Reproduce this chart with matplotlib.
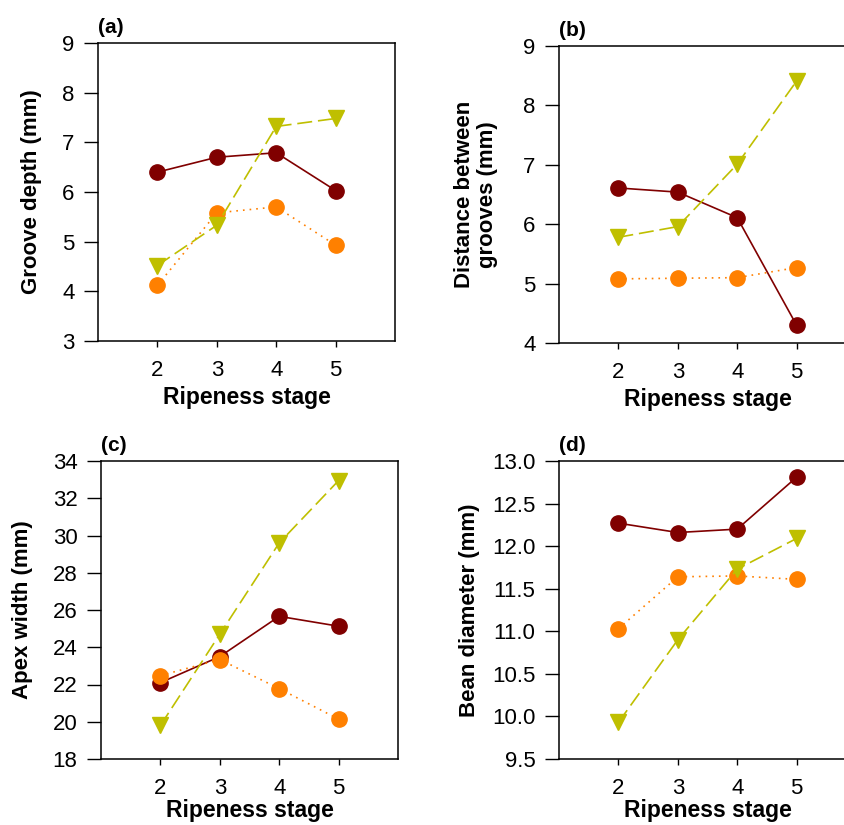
import matplotlib
matplotlib.use('Agg')
import matplotlib.pyplot as plt

plt.rcParams['font.family'] = ['Liberation Sans', 'DejaVu Sans']

stages = [2, 3, 4, 5]

groove_red = [6.40, 6.70, 6.79, 6.03]
groove_orange = [4.12, 5.58, 5.70, 4.93]
groove_yellow = [4.52, 5.33, 7.32, 7.48]

dist_red = [6.61, 6.54, 6.11, 4.30]
dist_orange = [5.08, 5.09, 5.10, 5.27]
dist_yellow = [5.78, 5.96, 7.01, 8.41]

apex_red = [22.1, 23.5, 25.66, 25.13]
apex_orange = [22.48, 23.34, 21.78, 20.14]
apex_yellow = [19.8, 24.7, 29.6, 32.95]

bean_red = [12.27, 12.16, 12.20, 12.81]
bean_orange = [11.03, 11.64, 11.65, 11.61]
bean_yellow = [9.93, 10.90, 11.73, 12.09]

panels = [
    ('(a)', 'Groove depth (mm)', groove_red, groove_orange, groove_yellow, (3, 9), list(range(3, 10)), '%d'),
    ('(b)', 'Distance between\ngrooves (mm)', dist_red, dist_orange, dist_yellow, (4, 9), list(range(4, 10)), '%d'),
    ('(c)', 'Apex width (mm)', apex_red, apex_orange, apex_yellow, (18, 34), list(range(18, 35, 2)), '%d'),
    ('(d)', 'Bean diameter (mm)', bean_red, bean_orange, bean_yellow, (9.5, 13), [9.5 + 0.5 * i for i in range(8)], '%.1f'),
]

W, H = 845, 825
# axes boxes in pixels: left, top, right, bottom
boxes = [(98, 43, 395, 341), (559, 46, 856, 343), (101, 461, 398, 759), (559, 461, 856, 759)]
ylabel_x = [32, 476, 23, 470]
xlabel_pad = [4, 4, 0, 0]

dark_red = '#800000'
orange = '#ff8000'
yellow = '#bfbf00'

fig = plt.figure(figsize=(W / 100, H / 100), dpi=100)

for (tag, ylabel, red, org, yel, ylim, yticks, fmt), (l, t, r, b), lx, xp in zip(panels, boxes, ylabel_x, xlabel_pad):
    ax = fig.add_axes([l / W, 1 - b / H, (r - l) / W, (b - t) / H])
    ax.plot(stages, red, color=dark_red, lw=1.2, ls='-', marker='o', ms=11, zorder=3)
    ax.plot(stages, org, color=orange, lw=1.2, ls=(0, (1, 3)), marker='o', ms=11, zorder=3)
    ax.plot(stages, yel, color=yellow, lw=1.2, ls=(0, (9, 3.5)), marker='v', ms=11.5, zorder=3)
    ax.set_xlim(1, 6)
    ax.set_ylim(*ylim)
    ax.set_xticks(stages)
    ax.set_yticks(yticks)
    ax.set_yticklabels([fmt % v for v in yticks])
    ax.tick_params(axis='y', direction='out', length=10, width=1, labelsize=16, pad=7)
    ax.tick_params(axis='x', direction='out', length=4.5, width=1, labelsize=16, pad=9)
    for sp in ax.spines.values():
        sp.set_linewidth(1.1)
    ax.set_xlabel('Ripeness stage', fontsize=16.5, fontweight='bold', labelpad=xp)
    fig.text(lx / W, 1 - (t + b) / 2 / H, ylabel, rotation=90, ha='center', va='center',
             fontsize=16, fontweight='bold', linespacing=1.1)
    ax.text(0.0, 1.02, tag, transform=ax.transAxes, fontsize=15, fontweight='bold',
            ha='left', va='bottom')

fig.savefig('out.png', dpi=100)
